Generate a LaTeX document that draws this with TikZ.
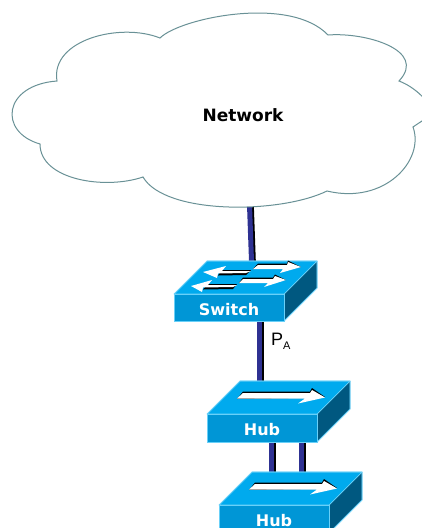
\documentclass[tikz,border=0pt]{standalone}
\usepackage{fontspec}
\setmainfont{DejaVu Sans}
\newfontfamily\labelfont{Liberation Sans}
\usetikzlibrary{backgrounds}
\definecolor{topblue}{RGB}{0,170,238}
\definecolor{frontblue}{RGB}{0,150,214}
\definecolor{sideblue}{RGB}{0,88,128}
\definecolor{edgeblue}{RGB}{105,208,248}
\definecolor{linkblue}{RGB}{46,49,146}
\definecolor{cloudline}{RGB}{105,145,150}
\tikzset{
  x=1pt,y=-1pt,
  cloudshape/.style={draw=cloudline,fill=white,line width=1pt,line join=miter},
  netlabel/.style={font=\fontsize{17}{20}\selectfont\bfseries,text=black,inner sep=0pt},
  front/.style={draw=edgeblue,fill=frontblue,line width=0.9pt,inner sep=0pt,
    minimum height=27pt,minimum width=110pt,text=white,
    font=\fontsize{16}{18}\selectfont\bfseries,text height=15pt,text depth=0pt},
  topface/.style={fill=topblue,draw=edgeblue,line width=0.7pt,line join=round},
  sideface/.style={fill=sideblue,draw=edgeblue,line width=0.5pt,line join=round},
  linkshadow/.style={draw=black,line width=6pt},
  linkmain/.style={draw=linkblue,line width=5pt},
  arrowfill/.style={fill=white},
  arrowshade/.style={fill=black},
  portlabel/.style={inner sep=0pt,anchor=base west,font=\labelfont\fontsize{18}{20}\selectfont},
}
\newcommand{\linkfromto}[2]{%
  \draw[linkshadow] ([xshift=0.8pt]#1) -- ([xshift=0.8pt]#2);
  \draw[linkmain] ([xshift=-0.5pt]#1) -- ([xshift=-0.5pt]#2);}
\newcommand{\hubarrow}[2]{%
  \begin{scope}[shift={(#1,#2)}]
    \fill[arrowshade] (0,6) -- (6,-1.5) -- (73,-1.5) -- (75,-5) -- (88,4) -- (68,8) -- (68,5) -- cycle;
    \fill[arrowfill] (0,5.5) -- (6,0) -- (73,0) -- (75,-3) -- (88,4.5) -- (61,10.5) -- (68,5.5) -- cycle;
  \end{scope}}
\begin{document}
\begin{tikzpicture}
\useasboundingbox (0,0) rectangle (422,528);
\clip (0,0) rectangle (422,528);
% cloud
\draw[cloudshape] (160,38)
  .. controls (180,18) and (290,-5) .. (328,35)
  .. controls (365,32) and (428,50) .. (399,81)
  .. controls (415,87) and (430,102) .. (432,112)
  .. controls (428,118) and (420,122) .. (413,127)
  .. controls (425,160) and (385,205) .. (327,191)
  .. controls (280,214) and (165,215) .. (143,177)
  .. controls (105,190) and (40,180) .. (40,144)
  .. controls (-2,132) and (3,85) .. (57,81)
  .. controls (50,40) and (120,22) .. (160,38)
  -- cycle;
\node[netlabel] (net) at (243,115) {Network};
\coordinate (netport) at (250,205);
% switch
\fill[sideface] (284,321) -- (317,288) -- (317,261) -- (284,294) -- cycle;
\fill[topface] (174,294) -- (207,261) -- (317,261) -- (284,294) -- cycle;
\draw[edgeblue,line width=0.7pt] (174,294) -- (207,261) -- (317,261) -- (317,288) -- (284,321);
\node[front] (sw) at (229,307.5) {Switch};
\coordinate (swtop) at (252,261);
\coordinate (swbottom) at (260,321);
% switch arrows
\fill[arrowshade] (253,269) -- (258,263.5) -- (287,263.5) -- (288,260.5) -- (301,267) -- (283,268) -- cycle;
\fill[arrowfill] (253,269) -- (258,265) -- (287,265) -- (288,262) -- (301,267) -- (280,273) -- (283,269) -- cycle;
\fill[arrowshade] (222,270) -- (251,270) -- (246,275) -- (218,275.5) -- cycle;
\fill[arrowfill] (203,272) -- (226,266) -- (222,271) -- (251,271) -- (246,273) -- (218,273.5) -- (217,278) -- cycle;
\fill[arrowshade] (239,283) -- (243,277.5) -- (273,277.5) -- (275,274.5) -- (286,280) -- (268,282) -- cycle;
\fill[arrowfill] (239,283) -- (243,279) -- (273,279) -- (275,276) -- (286,280) -- (264,287) -- (268,283) -- cycle;
\fill[arrowshade] (208,284) -- (237,284) -- (233,289) -- (203,289.5) -- cycle;
\fill[arrowfill] (191,286) -- (212,280) -- (208,285) -- (237,285) -- (233,287) -- (203,287.5) -- (202,292) -- cycle;
% hub 1
\fill[sideface] (317,442) -- (350,409) -- (350,381) -- (317,414) -- cycle;
\fill[topface] (207,414) -- (240,381) -- (350,381) -- (317,414) -- cycle;
\draw[edgeblue,line width=0.7pt] (207,414) -- (240,381) -- (350,381) -- (350,409) -- (317,442);
\node[front,minimum height=28pt] (hubone) at (262,428) {Hub};
\coordinate (hubonetop) at (260,381);
\coordinate (hubonea) at (272,442);
\coordinate (huboneb) at (302,442);
\hubarrow{237}{393}
% hub 2
\fill[sideface] (329,533) -- (362,500) -- (362,472) -- (329,505) -- cycle;
\fill[topface] (219,505) -- (252,472) -- (362,472) -- (329,505) -- cycle;
\draw[edgeblue,line width=0.7pt] (219,505) -- (252,472) -- (362,472) -- (362,500) -- (329,533);
\node[front,minimum height=28pt] (hubtwo) at (274,519) {Hub};
\coordinate (hubtwoa) at (272,472);
\coordinate (hubtwob) at (302,472);
\hubarrow{249}{484}
% port label
\node[portlabel] (pa) at (271,345) {P\raisebox{-4pt}{\fontsize{11}{12}\selectfont A}};
% connectors
\begin{scope}[on background layer]
  \linkfromto{netport}{swtop}
  \linkfromto{swbottom}{hubonetop}
  \linkfromto{hubonea}{hubtwoa}
  \linkfromto{huboneb}{hubtwob}
\end{scope}
\end{tikzpicture}
\end{document}
